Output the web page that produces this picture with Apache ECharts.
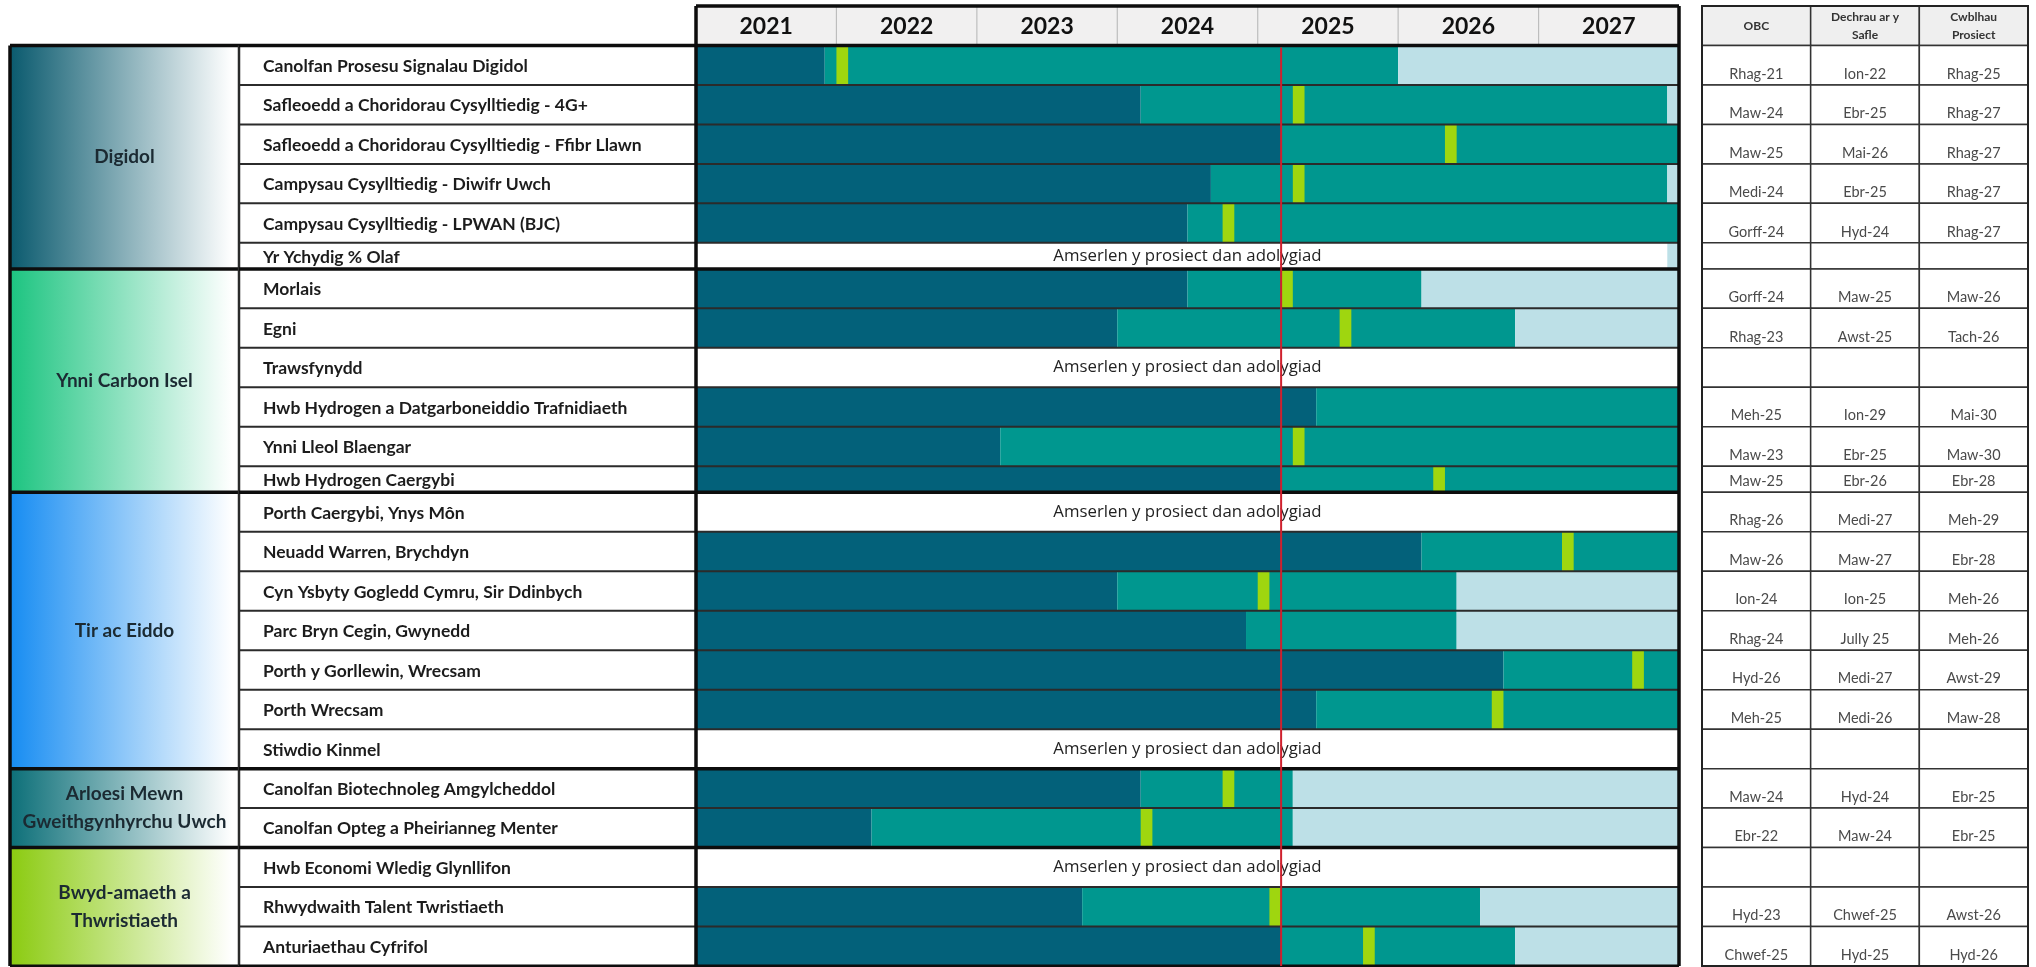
<!DOCTYPE html>
<html><head><meta charset="utf-8">
<script src="https://cdn.jsdelivr.net/npm/echarts@6/dist/echarts.min.js"></script>
<style>html,body{margin:0;padding:0;background:#fff;}#c{width:2036px;height:967px;}</style>
</head><body><div id="c"></div>
<script>
// ---------------- DATA ----------------
const yearLabels = ['2021','2022','2023','2024','2025','2026','2027'];
const tableHeaders = ['OBC','Dechrau ar y\nSafle','Cwblhau\nProsiect'];
const groupNames = ['Digidol','Ynni Carbon Isel','Tir ac Eiddo','Arloesi Mewn\nGweithgynhyrchu Uwch','Bwyd-amaeth a\nThwristiaeth'];
const groupSizes = [6, 6, 7, 2, 3];
const projects = [
  'Canolfan Prosesu Signalau Digidol',
  'Safleoedd a Choridorau Cysylltiedig - 4G+',
  'Safleoedd a Choridorau Cysylltiedig - Ffibr Llawn',
  'Campysau Cysylltiedig - Diwifr Uwch',
  'Campysau Cysylltiedig - LPWAN (BJC)',
  'Yr Ychydig % Olaf',
  'Morlais',
  'Egni',
  'Trawsfynydd',
  'Hwb Hydrogen a Datgarboneiddio Trafnidiaeth',
  'Ynni Lleol Blaengar',
  'Hwb Hydrogen Caergybi',
  'Porth Caergybi, Ynys Môn',
  'Neuadd Warren, Brychdyn',
  'Cyn Ysbyty Gogledd Cymru, Sir Ddinbych',
  'Parc Bryn Cegin, Gwynedd',
  'Porth y Gorllewin, Wrecsam',
  'Porth Wrecsam',
  'Stiwdio Kinmel',
  'Canolfan Biotechnoleg Amgylcheddol',
  'Canolfan Opteg a Pheirianneg Menter',
  'Hwb Economi Wledig Glynllifon',
  'Rhwydwaith Talent Twristiaeth',
  'Anturiaethau Cyfrifol'
];
// end of the dark (pre-OBC) phase
const obcMonth = ['2021-12','2024-03','2025-03','2024-09','2024-07',null,
  '2024-07','2024-01',null,'2025-06','2023-03','2025-03',
  null,'2026-03','2024-01','2024-12','2026-10','2025-06',null,
  '2024-03','2022-04',
  null,'2023-10','2025-03'];
// start-on-site marker month
const siteMonth = ['2022-01','2025-04','2026-05','2025-04','2024-10',null,
  '2025-03','2025-08',null,null,'2025-04','2026-04',
  null,'2027-03','2025-01',null,'2027-09','2026-09',null,
  '2024-10','2024-03',
  null,'2025-02','2025-10'];
// end of delivery phase (start of the light "complete" phase)
const completeMonth = ['2026-01','2027-12',null,'2027-12',null,'2027-12',
  '2026-03','2026-11',null,null,null,null,
  null,null,'2026-06','2026-06',null,null,null,
  '2025-04','2025-04',
  null,'2026-08','2026-11'];
const obcText = ['Rhag-21','Maw-24','Maw-25','Medi-24','Gorff-24','',
  'Gorff-24','Rhag-23','','Meh-25','Maw-23','Maw-25',
  'Rhag-26','Maw-26','Ion-24','Rhag-24','Hyd-26','Meh-25','',
  'Maw-24','Ebr-22',
  '','Hyd-23','Chwef-25'];
const siteText = ['Ion-22','Ebr-25','Mai-26','Ebr-25','Hyd-24','',
  'Maw-25','Awst-25','','Ion-29','Ebr-25','Ebr-26',
  'Medi-27','Maw-27','Ion-25','Jully 25','Medi-27','Medi-26','',
  'Hyd-24','Maw-24',
  '','Chwef-25','Hyd-25'];
const completeText = ['Rhag-25','Rhag-27','Rhag-27','Rhag-27','Rhag-27','',
  'Maw-26','Tach-26','','Mai-30','Maw-30','Ebr-28',
  'Meh-29','Ebr-28','Meh-26','Meh-26','Awst-29','Maw-28','',
  'Ebr-25','Ebr-25',
  '','Awst-26','Hyd-26'];
const todayMonth = '2025-03';
const reviewText = 'Amserlen y prosiect dan adolygiad';

// ---------------- LAYOUT / STYLE ----------------
const X_MIN = 2021, X_MAX = 2028;
const COMPACT_ROWS = [5, 11];
const COMPACT_W = 0.66, HEADER_W = 1.0;
const COL = {dark:'#03617a', teal:'#00978f', light:'#bde0e7', mark:'#9fd60f', red:'#d0202e',
  thin:'#2b2b2b', heavy:'#0d0d0d', headBg:'#f1f0f0', tblHead:'#efefef', text:'#1c1c1c', tblText:'#4a4a4a'};
const groupColors = ['#0a5a6e','#1cc480','#168cf2','#0c6f78','#8bcb10'];
const FONT = 'Lato';

function toYear(s){ const p = s.split('-').map(Number); return p[0] + (p[1]-1)/12; }
const rowW = projects.map((_, i) => COMPACT_ROWS.includes(i) ? COMPACT_W : 1);
const rowTop = []; let acc = 0; rowW.forEach(w => { rowTop.push(acc); acc += w; });
const TOTAL = acc;
const groupStart = []; let gs = 0; groupSizes.forEach(n => { groupStart.push(gs); gs += n; });
const groupEndSet = new Set(groupStart.slice(1).map(s => s - 1));

function rectShape(p0, p1){ return {x:p0[0], y:p0[1], width:p1[0]-p0[0], height:p1[1]-p0[1]}; }
function line(a, b, w, c){ return {type:'line', shape:{x1:a[0],y1:a[1],x2:b[0],y2:b[1]}, style:{stroke:c, lineWidth:w}}; }

const chart = echarts.init(document.getElementById('c'), null, {renderer:'canvas'});
const gridBase = {top:6, bottom:1, outerBoundsMode:'none', containLabel:false};
const yBase = {type:'value', inverse:true, min:-HEADER_W, max:TOTAL, show:false};

const rowsData = projects.map((_, i) => [i]);

// horizontal separator lines for a grid (x range given in axis units)
function sepLines(api, x0, x1, thinToo){
  const ch = [];
  ch.push(line(api.coord([x0, 0]), api.coord([x1, 0]), 3.5, COL.heavy));
  for (let i = 0; i < projects.length; i++) {
    const yb = rowTop[i] + rowW[i];
    if (i === projects.length - 1) ch.push(line(api.coord([x0, yb]), api.coord([x1, yb]), 3, COL.heavy));
    else if (groupEndSet.has(i)) ch.push(line(api.coord([x0, yb]), api.coord([x1, yb]), 3.5, COL.heavy));
    else if (thinToo) ch.push(line(api.coord([x0, yb]), api.coord([x1, yb]), 2, COL.thin));
  }
  return ch;
}

const option = {
  animation:false,
  backgroundColor:'#fff',
  grid:[
    Object.assign({left:10, width:229}, gridBase),
    Object.assign({left:239, width:457}, gridBase),
    Object.assign({left:696, width:983}, gridBase),
    Object.assign({left:1702, width:326}, gridBase)
  ],
  xAxis:[
    {gridIndex:0, type:'value', min:0, max:1, show:false},
    {gridIndex:1, type:'value', min:0, max:1, show:false},
    {gridIndex:2, type:'value', min:X_MIN, max:X_MAX, show:false},
    {gridIndex:3, type:'category', data:tableHeaders, show:false}
  ],
  yAxis:[0,1,2,3].map(g => Object.assign({gridIndex:g}, yBase)),
  series:[
    // group cells
    {type:'custom', xAxisIndex:0, yAxisIndex:0, z:2, data:groupNames.map((_, g) => [g]),
      renderItem:(params, api) => {
        const g = api.value(0);
        const r0 = groupStart[g], r1 = r0 + groupSizes[g];
        const y0 = rowTop[r0], y1 = r1 < projects.length ? rowTop[r1] : TOTAL;
        const p0 = api.coord([0, y0]), p1 = api.coord([1, y1]);
        return {type:'group', children:[
          {type:'rect', shape:rectShape(p0, p1), style:{fill:new echarts.graphic.LinearGradient(0,0,1,0,[
            {offset:0, color:groupColors[g]}, {offset:0.97, color:'#ffffff'}, {offset:1, color:'#ffffff'}])}},
          {type:'text', x:(p0[0]+p1[0])/2, y:(p0[1]+p1[1])/2, style:{text:groupNames[g], fill:'#1b2a32',
            font:'bold 19px ' + FONT, align:'center', verticalAlign:'middle', lineHeight:28}}
        ]};
      }},
    {type:'custom', xAxisIndex:0, yAxisIndex:0, z:5, data:[[0]],
      renderItem:(params, api) => {
        const ch = sepLines(api, 0, 1, false);
        ch.push(line(api.coord([0, 0]), api.coord([0, TOTAL]), 3.5, COL.heavy));
        ch.push(line(api.coord([1, 0]), api.coord([1, TOTAL]), 2.5, COL.thin));
        return {type:'group', children:ch};
      }},
    // project names
    {type:'custom', xAxisIndex:1, yAxisIndex:1, z:2, data:rowsData,
      renderItem:(params, api) => {
        const i = api.value(0);
        const p = api.coord([0, rowTop[i] + rowW[i] / 2]);
        return {type:'text', x:p[0] + 24, y:p[1] + 1, style:{text:projects[i], fill:COL.text,
          font:'bold 17.5px ' + FONT, align:'left', verticalAlign:'middle'}};
      }},
    {type:'custom', xAxisIndex:1, yAxisIndex:1, z:5, data:[[0]],
      renderItem:(params, api) => ({type:'group', children:sepLines(api, 0, 1, true)})},
    // gantt header
    {type:'custom', xAxisIndex:2, yAxisIndex:2, z:2, data:yearLabels.map((_, k) => [k]),
      renderItem:(params, api) => {
        const k = api.value(0);
        const p0 = api.coord([X_MIN + k, -HEADER_W]), p1 = api.coord([X_MIN + k + 1, 0]);
        const ch = [
          {type:'rect', shape:rectShape(p0, p1), style:{fill:COL.headBg}},
          {type:'text', x:(p0[0]+p1[0])/2, y:(p0[1]+p1[1])/2 + 1, style:{text:yearLabels[k], fill:'#111',
            font:'bold 23px ' + FONT, align:'center', verticalAlign:'middle'}}
        ];
        if (k > 0) ch.push(line([p0[0], p0[1]], [p0[0], p1[1]], 1.2, '#bdbdbd'));
        return {type:'group', children:ch};
      }},
    // gantt bars
    {type:'custom', xAxisIndex:2, yAxisIndex:2, z:2, data:rowsData,
      renderItem:(params, api) => {
        const i = api.value(0);
        const top = rowTop[i], bot = top + rowW[i];
        const R = (a, b, c) => ({type:'rect', shape:rectShape(api.coord([a, top]), api.coord([b, bot])), style:{fill:c}});
        const ch = [];
        if (obcMonth[i]) {
          const o = toYear(obcMonth[i]);
          const c = completeMonth[i] ? toYear(completeMonth[i]) : X_MAX;
          ch.push(R(X_MIN, o, COL.dark));
          ch.push(R(o, c, COL.teal));
          if (c < X_MAX) ch.push(R(c, X_MAX, COL.light));
          if (siteMonth[i]) { const s = toYear(siteMonth[i]); if (s < X_MAX) ch.push(R(s, s + 1/12, COL.mark)); }
        } else {
          ch.push(R(X_MIN, X_MAX, '#ffffff'));
          if (completeMonth[i]) ch.push(R(toYear(completeMonth[i]), X_MAX, COL.light));
          const p = api.coord([(X_MIN + X_MAX) / 2, top + rowW[i] / 2]);
          ch.push({type:'text', x:p[0], y:p[1], style:{text:reviewText, fill:'#222', font:'16.8px "Open Sans"',
            align:'center', verticalAlign:'middle'}});
        }
        return {type:'group', children:ch};
      }},
    {type:'custom', xAxisIndex:2, yAxisIndex:2, z:5, data:[[0]],
      renderItem:(params, api) => {
        const ch = sepLines(api, X_MIN, X_MAX, true);
        ch.push(line(api.coord([X_MIN, -HEADER_W]), api.coord([X_MAX, -HEADER_W]), 3.5, COL.heavy));
        ch.push(line(api.coord([X_MIN, -HEADER_W]), api.coord([X_MIN, TOTAL]), 3.5, COL.heavy));
        ch.push(line(api.coord([X_MAX, -HEADER_W]), api.coord([X_MAX, TOTAL]), 3.5, COL.heavy));
        return {type:'group', children:ch};
      }},
    // today line
    {type:'custom', xAxisIndex:2, yAxisIndex:2, z:6, data:[[toYear(todayMonth)]],
      renderItem:(params, api) => line(api.coord([api.value(0), 0.05]), api.coord([api.value(0), TOTAL]), 2, COL.red)},
    // table header
    {type:'custom', xAxisIndex:3, yAxisIndex:3, z:2, data:tableHeaders.map((_, j) => [j]),
      renderItem:(params, api) => {
        const j = api.value(0);
        const w = api.size([1, 0])[0];
        const c0 = api.coord([j, -HEADER_W]), c1 = api.coord([j, 0]);
        return {type:'group', children:[
          {type:'rect', shape:{x:c0[0]-w/2, y:c0[1], width:w, height:c1[1]-c0[1]}, style:{fill:COL.tblHead, stroke:'#333', lineWidth:1.5}},
          {type:'text', x:c0[0], y:(c0[1]+c1[1])/2, style:{text:tableHeaders[j], fill:'#333', font:'bold 12px ' + FONT,
            align:'center', verticalAlign:'middle', lineHeight:18}}
        ]};
      }},
    // table body
    {type:'custom', xAxisIndex:3, yAxisIndex:3, z:2, data:rowsData,
      renderItem:(params, api) => {
        const i = api.value(0);
        const w = api.size([1, 0])[0];
        const texts = [obcText[i], siteText[i], completeText[i]];
        const ch = [];
        for (let j = 0; j < 3; j++) {
          const c0 = api.coord([j, rowTop[i]]), c1 = api.coord([j, rowTop[i] + rowW[i]]);
          ch.push({type:'rect', shape:{x:c0[0]-w/2, y:c0[1], width:w, height:c1[1]-c0[1]}, style:{fill:'#fff', stroke:'#333', lineWidth:1.5}});
          ch.push({type:'text', x:c0[0], y:c1[1] - 11, style:{text:texts[j], fill:COL.tblText, font:'14.5px ' + FONT,
            align:'center', verticalAlign:'middle'}});
        }
        return {type:'group', children:ch};
      }},
    {type:'custom', xAxisIndex:3, yAxisIndex:3, z:5, data:[[0]],
      renderItem:(params, api) => {
        const w = api.size([1, 0])[0];
        const a = api.coord([0, -HEADER_W]), b = api.coord([2, TOTAL]);
        return {type:'rect', shape:{x:a[0]-w/2, y:a[1], width:b[0]-a[0]+w, height:b[1]-a[1]}, style:{fill:null, stroke:'#222', lineWidth:2}};
      }}
  ]
};
chart.setOption(option);
</script></body></html>
